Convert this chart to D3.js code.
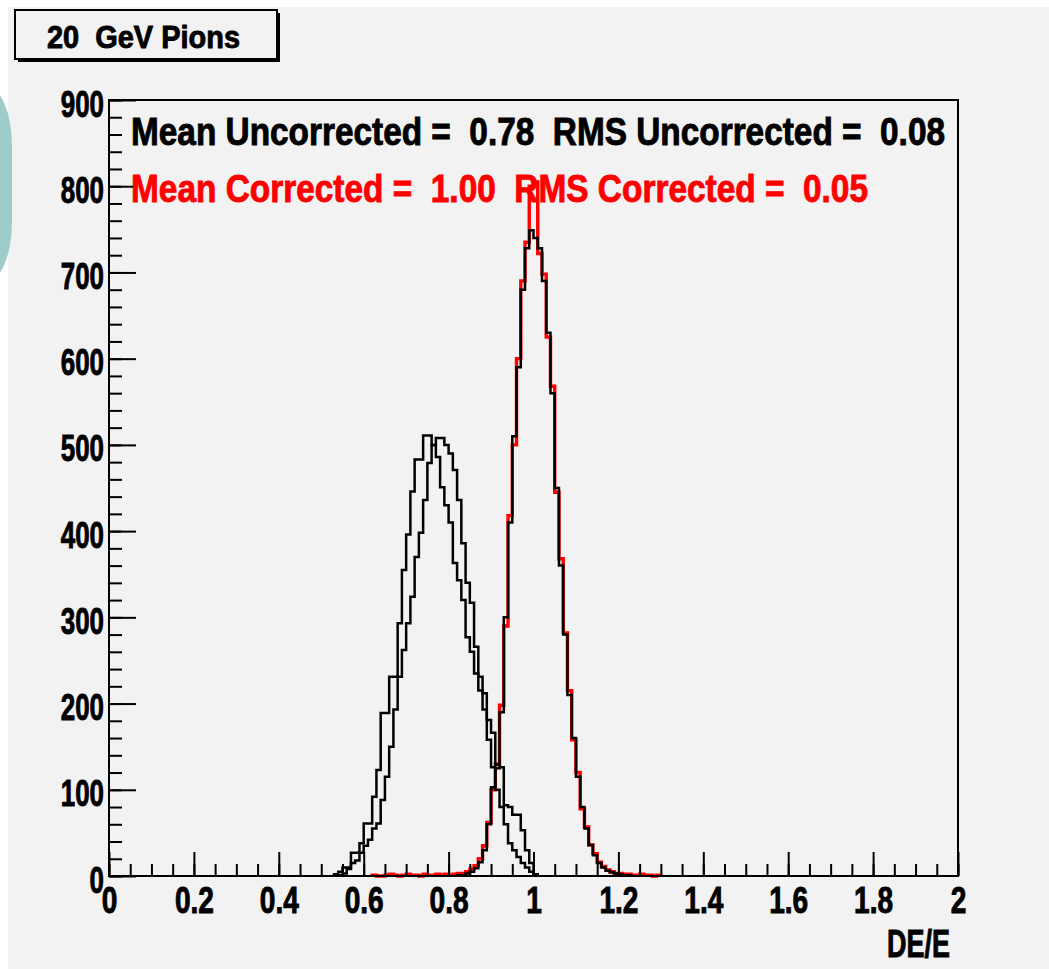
<!DOCTYPE html>
<html>
<head>
<meta charset="utf-8">
<script src="https://cdn.jsdelivr.net/npm/d3@7"></script>
<style>
  body { margin: 0; background: #ffffff; }
  svg text { font-family: "Liberation Sans", Arial, sans-serif; font-weight: bold; white-space: pre; }
</style>
</head>
<body>
<div id="chart"></div>
<script>
// ========== DATA ==========
const binWidth = 0.01;

// uncorrected, first histogram (peak near 0.75)
const uncorrAStart = 0.53;
const uncorrA = [2, 5, 10, 10, 27, 27, 38, 61, 61, 92, 123, 189, 189, 231, 231, 293, 355, 396, 446, 483,
  483, 511, 511, 500, 486, 451, 430, 410, 363, 343, 320, 277, 260, 235, 215, 193, 158, 126, 100, 80,
  60, 38, 30, 22, 15, 10, 5, 2];

// uncorrected, second histogram (peak near 0.78)
const uncorrBStart = 0.54;
const uncorrB = [1, 3, 8, 15, 18, 27, 35, 42, 55, 61, 88, 115, 150, 193, 231, 262, 293, 324, 370, 398,
  436, 479, 500, 508, 508, 500, 490, 471, 436, 386, 340, 317, 266, 231, 212, 181, 166, 129, 126, 82,
  80, 71, 71, 53, 30, 15];

// corrected, black
const corrBlackStart = 0.82;
const corrBlack = [1, 1, 3, 5, 9, 16, 30, 60, 103, 125, 190, 300, 410, 510, 590, 680, 728, 749, 740, 728,
  690, 630, 560, 450, 360, 280, 210, 160, 115, 80, 55, 36, 24, 15, 10, 6, 4, 3, 2, 1, 1];

// corrected, red
const corrRedStart = 0.62;
const corrRed = [1, 0, 0, 1, 2, 1, 0, 1, 2, 1, 1, 0, 2, 1, 1, 2, 1, 2, 1, 2,
  3, 3, 5, 8, 12, 20, 35, 62, 100, 130, 198, 290, 418, 500, 600, 690, 735, 800, 805, 722,
  698, 625, 568, 445, 368, 282, 215, 158, 120, 78, 57, 36, 26, 16, 11, 7, 5, 3, 3, 2,
  2, 1, 1, 2, 1, 1, 0, 1];

const xMajorTicks = [0, 0.2, 0.4, 0.6, 0.8, 1, 1.2, 1.4, 1.6, 1.8, 2];
const xMinorTicks = d3.range(0, 2.0001, 0.05);
const yMajorTicks = [0, 100, 200, 300, 400, 500, 600, 700, 800, 900];
const yMinorTicks = d3.range(0, 901, 20);

const titleText = "20  GeV Pions";
const statsUncorrected = "Mean Uncorrected =  0.78  RMS Uncorrected =  0.08";
const statsCorrected = "Mean Corrected =  1.00  RMS Corrected =  0.05";
const xAxisTitle = "DE/E";

// ========== SET UP ==========
const width = 1049, height = 969;
const frame = { left: 109, right: 958, top: 100, bottom: 876 };
const bg = "#f2f2f2";

const svg = d3.select("#chart").append("svg")
  .attr("width", width)
  .attr("height", height);

// canvas background with white edges and the teal blob on the left
svg.append("rect").attr("width", width).attr("height", height).attr("fill", "#ffffff");
svg.append("rect").attr("x", 8).attr("y", 7).attr("width", width - 8).attr("height", height - 7).attr("fill", bg);
svg.append("rect").attr("x", -40).attr("y", 86).attr("width", 52).attr("height", 196)
  .attr("rx", 30).attr("ry", 60).attr("fill", "#9dcccb");

const x = d3.scaleLinear().domain([0, 2]).range([frame.left, frame.right]);
const y = d3.scaleLinear().domain([0, 900]).range([frame.bottom, frame.top]);

// squeeze bold glyphs horizontally like the narrow reference font
const squeeze = (sel, k) => sel.each(function () {
  const n = this.getComputedTextLength();
  d3.select(this).attr("textLength", n * k).attr("lengthAdjust", "spacingAndGlyphs");
});
// heavier strokes on text, the reference font is very black
const heavy = (sel, color) => sel.attr("stroke", color).attr("stroke-width", 0.9).attr("paint-order", "stroke");

// ========== HISTOGRAMS ==========
const histPoints = (start, counts) => {
  const pts = [[start, 0]];
  counts.forEach((c, i) => {
    pts.push([start + i * binWidth, c], [start + (i + 1) * binWidth, c]);
  });
  pts.push([start + counts.length * binWidth, 0]);
  return pts;
};
const line = d3.line().x(d => x(d[0])).y(d => y(d[1]));

const hists = [
  { start: corrRedStart, counts: corrRed, color: "#ff0000", w: 3.4 },
  { start: uncorrAStart, counts: uncorrA, color: "#000000", w: 2.5 },
  { start: uncorrBStart, counts: uncorrB, color: "#000000", w: 2.5 },
  { start: corrBlackStart, counts: corrBlack, color: "#000000", w: 2.5 }
];
svg.append("g").selectAll("path")
  .data(hists)
  .join("path")
  .attr("d", d => line(histPoints(d.start, d.counts)))
  .attr("fill", "none")
  .attr("stroke", d => d.color)
  .attr("stroke-width", d => d.w)
  .attr("stroke-linejoin", "miter");

// ========== FRAME ==========
svg.append("rect")
  .attr("x", frame.left).attr("y", frame.top)
  .attr("width", frame.right - frame.left).attr("height", frame.bottom - frame.top)
  .attr("fill", "none").attr("stroke", "#000").attr("stroke-width", 2);

// ========== AXES ==========
const styleAxis = g => {
  g.select(".domain").remove();
  g.selectAll("line").attr("stroke", "#000").attr("stroke-width", 2);
  g.selectAll("text").attr("fill", "#000").attr("font-size", 36).call(heavy, "#000");
};

// y axis, ticks pointing inside
svg.append("g")
  .attr("transform", `translate(${frame.left},0)`)
  .call(d3.axisLeft(y).tickValues(yMinorTicks).tickSize(-13).tickFormat(""))
  .call(styleAxis);
const yAxisG = svg.append("g")
  .attr("transform", `translate(${frame.left},0)`)
  .call(d3.axisLeft(y).tickValues(yMajorTicks).tickSize(-27).tickPadding(5).tickFormat(d3.format("d")))
  .call(styleAxis);
yAxisG.selectAll("text").attr("dy", "16px").call(squeeze, 0.72);

// x axis, ticks pointing up
svg.append("g")
  .attr("transform", `translate(0,${frame.bottom})`)
  .call(d3.axisBottom(x).tickValues(xMinorTicks).tickSize(-12).tickFormat(""))
  .call(styleAxis);
const xAxisG = svg.append("g")
  .attr("transform", `translate(0,${frame.bottom})`)
  .call(d3.axisBottom(x).tickValues(xMajorTicks).tickSize(-24).tickPadding(11).tickFormat(d3.format("")))
  .call(styleAxis);
xAxisG.selectAll("text").call(squeeze, 0.78);

// axis title
svg.append("text")
  .text(xAxisTitle)
  .attr("x", 950).attr("y", 957)
  .attr("text-anchor", "end")
  .attr("font-size", 38)
  .attr("textLength", 63).attr("lengthAdjust", "spacingAndGlyphs")
  .call(heavy, "#000");

// ========== STATS TEXT ==========
svg.append("text")
  .text(statsUncorrected)
  .attr("x", 131).attr("y", 145)
  .attr("font-size", 38).attr("fill", "#000")
  .attr("textLength", 814).attr("lengthAdjust", "spacingAndGlyphs")
  .call(heavy, "#000");
svg.append("text")
  .text(statsCorrected)
  .attr("x", 131).attr("y", 202)
  .attr("font-size", 38).attr("fill", "#ff0000")
  .attr("textLength", 737).attr("lengthAdjust", "spacingAndGlyphs")
  .call(heavy, "#ff0000");

// ========== TITLE BOX ==========
svg.append("rect").attr("x", 18).attr("y", 13).attr("width", 262).attr("height", 49).attr("fill", "#000");
svg.append("rect").attr("x", 15).attr("y", 10).attr("width", 262).attr("height", 49)
  .attr("fill", bg).attr("stroke", "#000").attr("stroke-width", 2);
svg.append("text")
  .text(titleText)
  .attr("x", 47).attr("y", 48)
  .attr("font-size", 32)
  .attr("textLength", 193).attr("lengthAdjust", "spacingAndGlyphs")
  .call(heavy, "#000");
</script>
</body>
</html>
